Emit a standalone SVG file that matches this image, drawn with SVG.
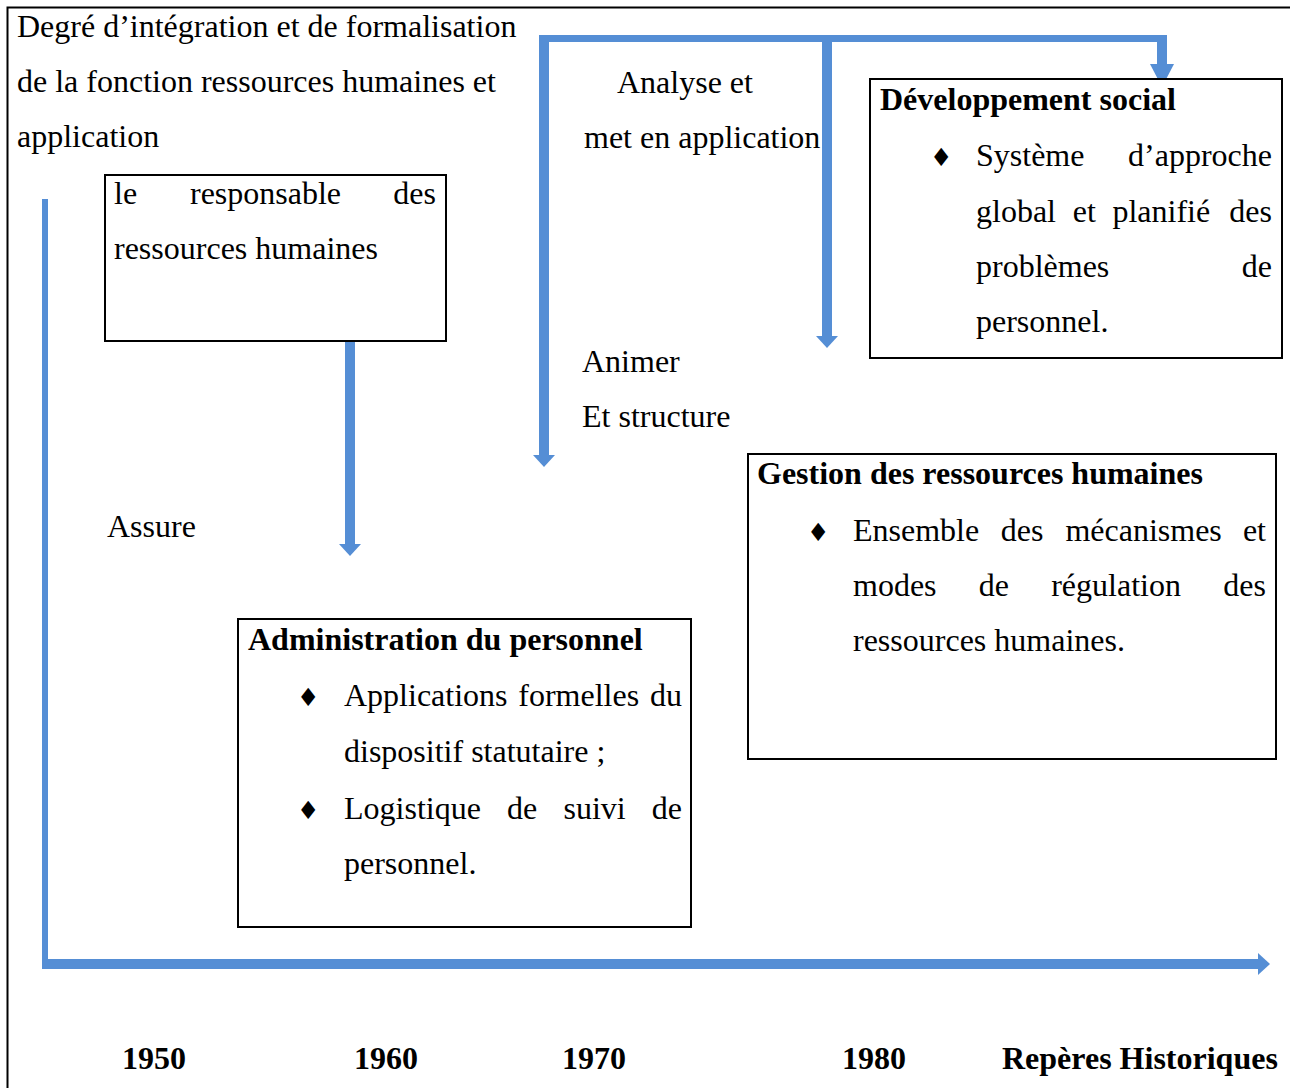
<svg xmlns="http://www.w3.org/2000/svg" width="1290" height="1088" viewBox="0 0 1290 1088">
  <defs>
    <style>
      text { font-family: "Liberation Serif", "Times New Roman", serif; font-size: 32px; fill: #000; }
      .b { font-weight: bold; }
      .bul { font-family: "DejaVu Sans", sans-serif; font-size: 25px; }
      .box { fill: #fff; stroke: #000; stroke-width: 2; }
      .frame { fill: none; stroke: #000; stroke-width: 2; }
      .flow { stroke: #558ED5; fill: none; }
      .end { text-anchor: end; }
    </style>
    <marker id="head" viewBox="0 0 12 22" refX="0" refY="11" markerUnits="userSpaceOnUse" markerWidth="12" markerHeight="22" orient="auto">
      <path d="M0,0 L12,11 L0,22 Z" fill="#558ED5"/>
    </marker>
    <marker id="head-long" viewBox="0 0 23 24" refX="0" refY="12" markerUnits="userSpaceOnUse" markerWidth="23" markerHeight="24" orient="auto">
      <path d="M0,0 L23,12 L0,24 Z" fill="#558ED5"/>
    </marker>
  </defs>

  <!-- page frame -->
  <path class="frame" d="M7.5,1088 V7.5 H1290"/>

  <!-- axis caption -->
  <g id="axis-title">
    <text x="17" y="37">Degré d’intégration et de formalisation</text>
    <text x="17" y="92">de la fonction ressources humaines et</text>
    <text x="17" y="147">application</text>
  </g>

  <!-- connectors -->
  <g id="connectors">
    <line class="flow" x1="45" y1="199" x2="45" y2="969" stroke-width="6"/>
    <line class="flow" x1="42" y1="964" x2="1258" y2="964" stroke-width="10" marker-end="url(#head)"/>
    <line class="flow" x1="350" y1="341" x2="350" y2="544" stroke-width="10" marker-end="url(#head)"/>
    <line class="flow" x1="539" y1="38.5" x2="1167" y2="38.5" stroke-width="7"/>
    <line class="flow" x1="544" y1="35" x2="544" y2="455" stroke-width="10" marker-end="url(#head)"/>
    <line class="flow" x1="827" y1="38" x2="827" y2="336" stroke-width="10" marker-end="url(#head)"/>
    <line class="flow" x1="1162" y1="35" x2="1162" y2="64" stroke-width="10" marker-end="url(#head-long)"/>
  </g>

  <!-- edge labels -->
  <g id="labels">
    <text x="107" y="537">Assure</text>
    <text x="617" y="93">Analyse et</text>
    <text x="584" y="148">met en application</text>
    <text x="582" y="372">Animer</text>
    <text x="582" y="427">Et structure</text>
  </g>

  <g id="node-responsable">
    <rect class="box" x="105" y="175" width="341" height="166"/>
    <text y="204"><tspan x="114">le</tspan><tspan x="190">responsable</tspan><tspan x="436" class="end">des</tspan></text>
    <text x="114" y="259">ressources humaines</text>
  </g>

  <g id="node-developpement">
    <rect class="box" x="870" y="79" width="412" height="279"/>
    <text class="b" x="880" y="110">Développement social</text>
    <text class="bul" x="930" y="166">♦</text>
    <text y="166"><tspan x="976">Système</tspan><tspan x="1272" class="end">d’approche</tspan></text>
    <text y="222"><tspan x="976">global</tspan><tspan x="1072.7">et</tspan><tspan x="1112.4">planifié</tspan><tspan x="1272" class="end">des</tspan></text>
    <text y="277"><tspan x="976">problèmes</tspan><tspan x="1272" class="end">de</tspan></text>
    <text x="976" y="332">personnel.</text>
  </g>

  <g id="node-gestion">
    <rect class="box" x="748" y="454" width="528" height="305"/>
    <text class="b" x="757" y="484">Gestion des ressources humaines</text>
    <text class="bul" x="807" y="541">♦</text>
    <text y="541"><tspan x="853">Ensemble</tspan><tspan x="1000.7">des</tspan><tspan x="1065.4">mécanismes</tspan><tspan x="1266" class="end">et</tspan></text>
    <text y="596"><tspan x="853">modes</tspan><tspan x="978.8">de</tspan><tspan x="1051.2">régulation</tspan><tspan x="1266" class="end">des</tspan></text>
    <text x="853" y="651">ressources humaines.</text>
  </g>

  <g id="node-administration">
    <rect class="box" x="238" y="619" width="453" height="308"/>
    <text class="b" x="248" y="650">Administration du personnel</text>
    <text class="bul" x="297" y="706">♦</text>
    <text y="706"><tspan x="344">Applications</tspan><tspan x="518.3">formelles</tspan><tspan x="682" class="end">du</tspan></text>
    <text x="344" y="762">dispositif statutaire ;</text>
    <text class="bul" x="297" y="819">♦</text>
    <text y="819"><tspan x="344">Logistique</tspan><tspan x="507.1">de</tspan><tspan x="563.5">suivi</tspan><tspan x="682" class="end">de</tspan></text>
    <text x="344" y="874">personnel.</text>
  </g>

  <!-- time axis labels -->
  <g id="timeline">
    <text class="b" x="122" y="1069">1950</text>
    <text class="b" x="354" y="1069">1960</text>
    <text class="b" x="562" y="1069">1970</text>
    <text class="b" x="842" y="1069">1980</text>
    <text class="b" x="1002" y="1069">Repères Historiques</text>
  </g>
</svg>
